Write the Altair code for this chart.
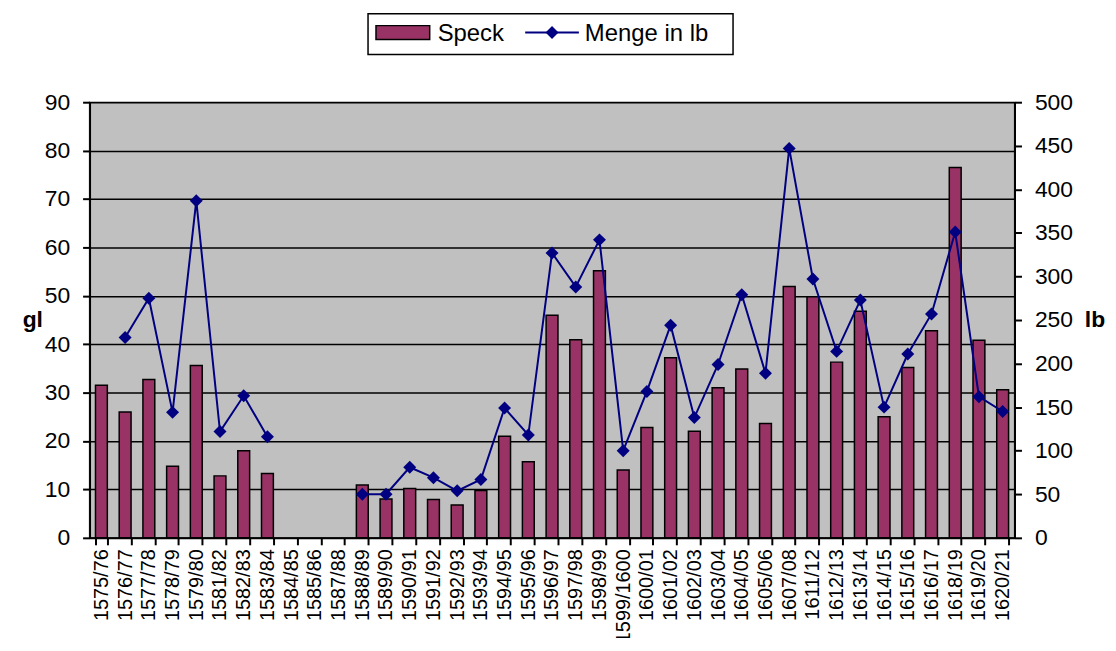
import altair as alt
import pandas as pd

jahre = ["1575/76", "1576/77", "1577/78", "1578/79", "1579/80", "1581/82", "1582/83",
         "1583/84", "1584/85", "1585/86", "1587/88", "1588/89", "1589/90", "1590/91",
         "1591/92", "1592/93", "1593/94", "1594/95", "1595/96", "1596/97", "1597/98",
         "1598/99", "1599/1600", "1600/01", "1601/02", "1602/03", "1603/04", "1604/05",
         "1605/06", "1607/08", "1611/12", "1612/13", "1613/14", "1614/15", "1615/16",
         "1616/17", "1618/19", "1619/20", "1620/21"]

speck_gl = [31.5, 26.0, 32.7, 14.8, 35.6, 12.8, 18.0, 13.3, None, None, None, 10.9, 8.0,
            10.2, 7.9, 6.8, 9.8, 21.0, 15.7, 46.0, 40.9, 55.2, 14.0, 22.8, 37.2, 22.0,
            31.0, 34.9, 23.6, 51.9, 49.8, 36.3, 46.8, 25.0, 35.2, 42.8, 76.5, 40.8, 30.6]

menge_lb = [None, 230, 275, 144, 387, 122, 163, 116, None, None, None, 50, 50, 81, 69,
            54, 67, 149, 118, 327, 288, 342, 100, 168, 244, 138, 199, 279, 189, 447, 297,
            214, 273, 150, 211, 257, 351, 162, 145]

seg = []
s = 0
prev = None
for v in menge_lb:
    if v is not None and prev is None:
        s += 1
    seg.append(s if v is not None else None)
    prev = v

df = pd.DataFrame({"Jahr": jahre, "Speck": speck_gl, "Menge": menge_lb, "seg": seg})

FONT = "Liberation Sans"
BAR = "#993366"
NAVY = "#000080"

x_enc = alt.X(
    "Jahr:N", sort=jahre,
    scale=alt.Scale(domain=jahre, paddingInner=0.5, paddingOuter=0.25),
    axis=alt.Axis(title=None, labelAngle=270, tickBand="extent", labelFontSize=20,
                  labelPadding=4, labelAlign="right", labelBaseline="middle"),
)

bars = alt.Chart(df).transform_filter("isValid(datum.Speck)").mark_bar(
    color=BAR, stroke="black", strokeWidth=1.5
).encode(
    x=x_enc,
    y=alt.Y("Speck:Q", scale=alt.Scale(domain=[0, 90]),
            axis=alt.Axis(values=list(range(0, 100, 10)), title="gl", titleAngle=0,
                          titleFontWeight="bold", titleFontSize=23, titlePadding=12,
                          titleBaseline="middle", grid=True, labelPadding=13)),
)

y_right = alt.Y("Menge:Q", scale=alt.Scale(domain=[0, 500]),
                axis=alt.Axis(orient="right", values=list(range(0, 550, 50)), title="lb",
                              titleAngle=0, titleFontWeight="bold", titleFontSize=23,
                              titlePadding=22, titleBaseline="middle", grid=False,
                              labelPadding=13))

base_line = alt.Chart(df).transform_filter("isValid(datum.Menge)")
line = base_line.mark_line(color=NAVY, strokeWidth=2).encode(
    x=x_enc, y=y_right, detail="seg:N")
points = base_line.mark_point(shape="diamond", filled=True, size=170, color=NAVY,
                              opacity=1).encode(x=x_enc, y=y_right)

one = pd.DataFrame({"a": [0]})
leg_box = alt.Chart(one).mark_rect(fill="white", stroke="black", strokeWidth=1.5).encode(
    x=alt.value(280), x2=alt.value(647), y=alt.value(-89), y2=alt.value(-48))
leg_sw = alt.Chart(one).mark_rect(fill=BAR, stroke="black", strokeWidth=1.5).encode(
    x=alt.value(288), x2=alt.value(342), y=alt.value(-77), y2=alt.value(-63))
leg_t1 = alt.Chart(one).mark_text(align="left", baseline="middle", fontSize=24, font=FONT,
                                  color="black").encode(
    x=alt.value(350), y=alt.value(-69), text=alt.value("Speck"))
leg_ln = alt.Chart(one).mark_rule(color=NAVY, strokeWidth=2).encode(
    x=alt.value(438), x2=alt.value(492), y=alt.value(-70))
leg_pt = alt.Chart(one).mark_point(shape="diamond", filled=True, size=170, color=NAVY,
                                   opacity=1).encode(x=alt.value(465), y=alt.value(-70))
leg_t2 = alt.Chart(one).mark_text(align="left", baseline="middle", fontSize=24, font=FONT,
                                  color="black").encode(
    x=alt.value(498), y=alt.value(-69), text=alt.value("Menge in lb"))

chart = alt.layer(
    bars, alt.layer(line, points), leg_box, leg_sw, leg_t1, leg_ln, leg_pt, leg_t2
).resolve_scale(y="independent").properties(
    width=930, height=438,
    autosize=alt.AutoSizeParams(type="none"),
    padding={"left": 82, "top": 93, "right": 94, "bottom": 99},
).configure_view(
    fill="#C0C0C0", stroke="#808080", strokeWidth=1.5
).configure_axis(
    domainColor="black", domainWidth=2, tickColor="black", tickWidth=2, tickSize=7,
    labelFont=FONT, titleFont=FONT, labelColor="black", titleColor="black",
    labelFontSize=23, gridColor="black", gridWidth=1.5, gridOpacity=1,
)

chart.save("out.html", embed_options={"renderer": "svg", "actions": False})
